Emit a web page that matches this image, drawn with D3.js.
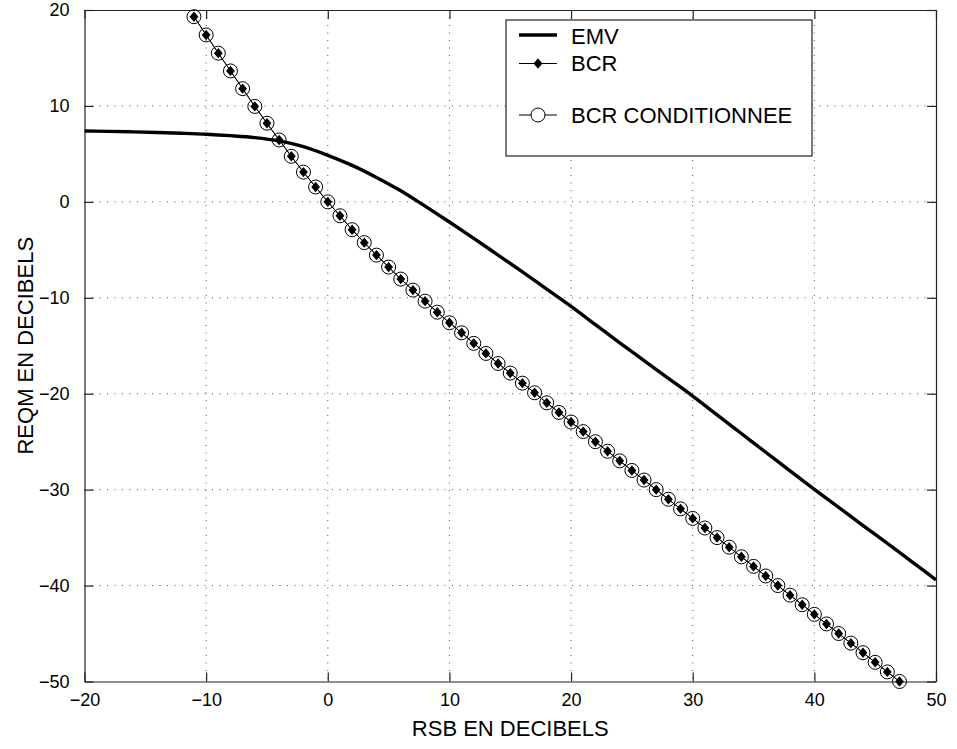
<!DOCTYPE html>
<html>
<head>
<meta charset="utf-8">
<script src="https://cdn.jsdelivr.net/npm/d3@7"></script>
<style>
  html, body { margin: 0; padding: 0; background: #fff; }
  svg { display: block; font-family: "Liberation Sans", Arial, Helvetica, sans-serif; }
</style>
</head>
<body>
<svg id="chart" width="957" height="749"></svg>
<script>
// ---- data ----
const xTicks = [-20, -10, 0, 10, 20, 30, 40, 50];
const yTicks = [-50, -40, -30, -20, -10, 0, 10, 20];

// EMV curve
const emvX = [-20, -18, -16, -14, -12, -10, -8, -6, -4, -2, 0, 2, 4, 6, 8, 10, 12, 14, 16, 18,
              20, 22, 24, 26, 28, 30, 32, 34, 36, 38, 40, 42, 44, 46, 48, 50];
const emvY = [7.38, 7.35, 7.3, 7.23, 7.15, 7.05, 6.9, 6.7, 6.35, 5.75, 4.85, 3.8, 2.55, 1.15, -0.45,
              -2.1, -3.8, -5.55, -7.3, -9.1, -10.9, -12.8, -14.7, -16.55, -18.4, -20.25, -22.2,
              -24.15, -26.1, -28.05, -29.97, -31.85, -33.75, -35.6, -37.5, -39.4];

// BCR (diamonds) and BCR CONDITIONNEE (circles) – same abscissae
const bcrX = [-11, -10, -9, -8, -7, -6, -5, -4, -3, -2, -1, 0, 1, 2, 3, 4, 5, 6, 7, 8, 9, 10,
              11, 12, 13, 14, 15, 16, 17, 18, 19, 20, 21, 22, 23, 24, 25, 26, 27, 28, 29, 30,
              31, 32, 33, 34, 35, 36, 37, 38, 39, 40, 41, 42, 43, 44, 45, 46, 47];
const bcrY = [19.3, 17.4, 15.5, 13.65, 11.8, 9.95, 8.2, 6.45, 4.75, 3.1, 1.55, 0.0, -1.45, -2.9,
              -4.25, -5.55, -6.8, -8.05, -9.2, -10.35, -11.5, -12.6, -13.65, -14.75, -15.8, -16.85,
              -17.85, -18.9, -19.9, -20.95, -21.95, -22.95, -23.95, -25.0, -26.0, -27.0, -28.0,
              -29.0, -30.0, -31.0, -32.0, -33.0, -34.0, -35.0, -36.0, -37.0, -38.0, -39.0, -40.0,
              -41.0, -42.0, -43.0, -44.0, -45.0, -46.0, -47.0, -48.0, -49.0, -50.0];
const bcrCondY = [19.3, 17.4, 15.5, 13.65, 11.8, 9.95, 8.2, 6.45, 4.75, 3.1, 1.55, 0.0, -1.45, -2.9,
              -4.25, -5.55, -6.8, -8.05, -9.2, -10.35, -11.5, -12.6, -13.65, -14.75, -15.8, -16.85,
              -17.85, -18.9, -19.9, -20.95, -21.95, -22.95, -23.95, -25.0, -26.0, -27.0, -28.0,
              -29.0, -30.0, -31.0, -32.0, -33.0, -34.0, -35.0, -36.0, -37.0, -38.0, -39.0, -40.0,
              -41.0, -42.0, -43.0, -44.0, -45.0, -46.0, -47.0, -48.0, -49.0, -50.0];

const legendLabels = ["EMV", "BCR", "BCR CONDITIONNEE"];
const xTitle = "RSB EN DECIBELS";
const yTitle = "REQM EN DECIBELS";

// ---- layout ----
const L = 84.5, R = 936, T = 10, B = 681.5;
const svg = d3.select("#chart");
const x = d3.scaleLinear().domain([-20, 50]).range([L, R]);
const y = d3.scaleLinear().domain([-50, 20]).range([B, T]);

const fmt = d => (d < 0 ? "\u2212" + Math.abs(d) : String(d));

// grid (dotted)
const grid = svg.append("g");
grid.selectAll("line.gx").data(xTicks.filter(d => d > -20 && d < 50)).enter().append("line")
  .attr("x1", d => x(d)).attr("x2", d => x(d)).attr("y1", T).attr("y2", B)
  .attr("stroke", "#555").attr("stroke-width", 1).attr("stroke-dasharray", "1,6.5");
grid.selectAll("line.gy").data(yTicks.filter(d => d > -50 && d < 20)).enter().append("line")
  .attr("y1", d => y(d)).attr("y2", d => y(d)).attr("x1", L).attr("x2", R)
  .attr("stroke", "#555").attr("stroke-width", 1).attr("stroke-dasharray", "1,6.5");

// axes with inward ticks, box on all sides
const tl = 9;
const axB = svg.append("g").attr("transform", `translate(0,${B})`)
  .call(d3.axisBottom(x).tickValues(xTicks).tickSizeInner(-tl).tickSizeOuter(0).tickFormat(fmt).tickPadding(12));
const axT = svg.append("g").attr("transform", `translate(0,${T})`)
  .call(d3.axisTop(x).tickValues(xTicks).tickSizeInner(-tl).tickSizeOuter(0).tickFormat(""));
const axL = svg.append("g").attr("transform", `translate(${L},0)`)
  .call(d3.axisLeft(y).tickValues(yTicks).tickSizeInner(-tl).tickSizeOuter(0).tickFormat(fmt).tickPadding(15));
const axR = svg.append("g").attr("transform", `translate(${R},0)`)
  .call(d3.axisRight(y).tickValues(yTicks).tickSizeInner(-tl).tickSizeOuter(0).tickFormat(""));
[axB, axT, axL, axR].forEach(a => {
  a.select(".domain").attr("stroke", "#222").attr("stroke-width", 1.2);
  a.selectAll(".tick line").attr("stroke", "#222").attr("stroke-width", 1.2);
  a.selectAll("text").attr("font-size", 18).attr("fill", "#000")
    .attr("font-family", "'Liberation Sans', Arial, Helvetica, sans-serif");
});

// axis titles
svg.append("text").attr("x", (L + R) / 2).attr("y", 736).attr("text-anchor", "middle")
  .attr("font-size", 22).text(xTitle);
svg.append("text").attr("transform", `translate(33,${(T + B) / 2}) rotate(-90)`)
  .attr("text-anchor", "middle").attr("font-size", 22).text(yTitle);

// plot area clip
svg.append("defs").append("clipPath").attr("id", "clip")
  .append("rect").attr("x", L).attr("y", T - 8).attr("width", R - L).attr("height", B - T + 16);
const plot = svg.append("g");

// EMV
const emvData = emvX.map((d, i) => [d, emvY[i]]);
plot.append("path").datum(emvData)
  .attr("d", d3.line().curve(d3.curveMonotoneX).x(d => x(d[0])).y(d => y(d[1])))
  .attr("fill", "none").attr("stroke", "#000").attr("stroke-width", 3.4)
  .attr("stroke-linejoin", "round").attr("clip-path", "url(#clip)");

// BCR line + diamonds
const bcrData = bcrX.map((d, i) => [d, bcrY[i]]);
plot.append("path").datum(bcrData)
  .attr("d", d3.line().x(d => x(d[0])).y(d => y(d[1])))
  .attr("fill", "none").attr("stroke", "#000").attr("stroke-width", 1);
const diamond = (cx, cy) => `M${cx},${cy - 5.2}L${cx + 4.4},${cy}L${cx},${cy + 5.2}L${cx - 4.4},${cy}Z`;
plot.selectAll("path.dia").data(bcrData).enter().append("path")
  .attr("d", d => diamond(x(d[0]), y(d[1]))).attr("fill", "#000");

// BCR conditionnee line + circles
const condData = bcrX.map((d, i) => [d, bcrCondY[i]]);
plot.append("path").datum(condData)
  .attr("d", d3.line().x(d => x(d[0])).y(d => y(d[1])))
  .attr("fill", "none").attr("stroke", "#000").attr("stroke-width", 0.8);
plot.selectAll("circle.c").data(condData).enter().append("circle")
  .attr("cx", d => x(d[0])).attr("cy", d => y(d[1])).attr("r", 7)
  .attr("fill", "none").attr("stroke", "#000").attr("stroke-width", 1);

// legend
const lg = svg.append("g");
lg.append("rect").attr("x", 506).attr("y", 20).attr("width", 306).attr("height", 136)
  .attr("fill", "#fff").attr("stroke", "#222").attr("stroke-width", 1.2);
const rows = [35, 63.5, 115];
const baselines = [43.5, 71, 123];
lg.append("line").attr("x1", 519).attr("x2", 557).attr("y1", rows[0]).attr("y2", rows[0])
  .attr("stroke", "#000").attr("stroke-width", 3.4);
lg.append("line").attr("x1", 519).attr("x2", 557).attr("y1", rows[1]).attr("y2", rows[1])
  .attr("stroke", "#000").attr("stroke-width", 1);
lg.append("path").attr("d", diamond(538, rows[1])).attr("fill", "#000");
lg.append("line").attr("x1", 519).attr("x2", 557).attr("y1", rows[2]).attr("y2", rows[2])
  .attr("stroke", "#000").attr("stroke-width", 1);
lg.append("circle").attr("cx", 538).attr("cy", rows[2]).attr("r", 7)
  .attr("fill", "#fff").attr("stroke", "#000").attr("stroke-width", 1);
lg.selectAll("text.lt").data(legendLabels).enter().append("text")
  .attr("x", 571).attr("y", (d, i) => baselines[i]).attr("font-size", 22).text(d => d);
</script>
</body>
</html>
